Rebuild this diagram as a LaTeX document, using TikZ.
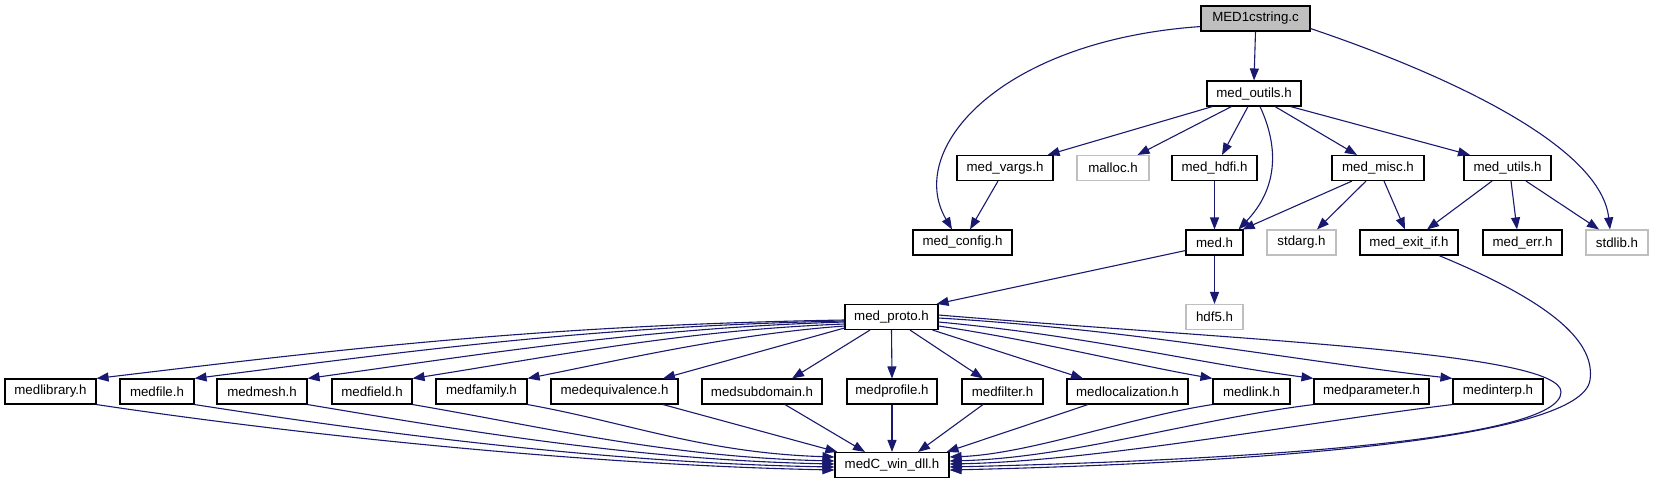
\documentclass[tikz,border=0pt]{standalone}
\usepackage{fontspec}
\setmainfont{Liberation Sans}
\usetikzlibrary{arrows.meta}
\definecolor{edgec}{HTML}{191970}
\definecolor{grayc}{HTML}{BFBFBF}
\begin{document}
\begin{tikzpicture}[x=1pt,y=-1pt,
  box/.style={draw=black, line width=1.1pt, inner sep=0pt, minimum height=25pt, font=\fontsize{13.3}{15}\selectfont, text=black},
  graybox/.style={box, draw=grayc},
  edge/.style={draw=edgec, line width=1.1pt, -{Triangle[length=12pt,width=9pt]}},
]
\path[fill=white] (0,0) rectangle (1654,485);
\useasboundingbox (0,0) rectangle (1654,485);
% row 0
\node[box, fill=grayc, minimum width=109pt] (m1) at (1255.5,18.5) {MED1cstring.c};
% row 1
\node[box, minimum width=94pt] (outils) at (1254,93.5) {med\_outils.h};
% row 2
\node[box, minimum width=96pt] (vargs) at (1005,168) {med\_vargs.h};
\node[graybox, minimum width=72pt] (malloc) at (1113,168) {malloc.h};
\node[box, minimum width=85pt] (hdfi) at (1214.5,168) {med\_hdfi.h};
\node[box, minimum width=92pt] (misc) at (1378,168) {med\_misc.h};
\node[box, minimum width=87pt] (utils) at (1507.5,168) {med\_utils.h};
% row 3
\node[box, minimum width=99pt] (config) at (962.5,242.5) {med\_config.h};
\node[box, minimum width=57pt] (med) at (1214.5,242.5) {med.h};
\node[graybox, minimum width=69pt] (stdarg) at (1301.5,242.5) {stdarg.h};
\node[box, minimum width=98pt] (exitif) at (1409,242.5) {med\_exit\_if.h};
\node[box, minimum width=79pt] (err) at (1522.5,242.5) {med\_err.h};
\node[graybox, minimum width=62pt] (stdlib) at (1617,242.5) {stdlib.h};
% row 4
\node[box, minimum width=93pt] (proto) at (891.5,317) {med\_proto.h};
\node[graybox, minimum width=57pt] (hdf5) at (1214.5,317) {hdf5.h};
% row 5
\node[box, minimum width=91pt] (library) at (50.5,391.5) {medlibrary.h};
\node[box, minimum width=74pt] (file) at (157,391.5) {medfile.h};
\node[box, minimum width=90pt] (mesh) at (262,391.5) {medmesh.h};
\node[box, minimum width=80pt] (field) at (372,391.5) {medfield.h};
\node[box, minimum width=91pt] (family) at (481.5,391.5) {medfamily.h};
\node[box, minimum width=127pt] (equiv) at (614.5,391.5) {medequivalence.h};
\node[box, minimum width=120pt] (subdomain) at (762,391.5) {medsubdomain.h};
\node[box, minimum width=90pt] (profile) at (892,391.5) {medprofile.h};
\node[box, minimum width=81pt] (filter) at (1002.5,391.5) {medfilter.h};
\node[box, minimum width=121pt] (localization) at (1127.5,391.5) {medlocalization.h};
\node[box, minimum width=77pt] (link) at (1251.5,391.5) {medlink.h};
\node[box, minimum width=115pt] (parameter) at (1371.5,391.5) {medparameter.h};
\node[box, minimum width=90pt] (interp) at (1498,391.5) {medinterp.h};
% row 6
\node[box, minimum width=114pt] (dll) at (892,465) {medC\_win\_dll.h};

% edges from MED1cstring.c
\draw[edge] (m1.south) -- (outils.north);
\draw[edge] ([yshift=5pt]m1.south west) .. controls +(-201,14) and +(-47,-80) .. ([xshift=-10.5pt]config.north);
\draw[edge] ([yshift=3pt]m1.south east) .. controls +(110,37) and +(-10,-90) .. ([xshift=-7pt]stdlib.north);
% edges from med_outils.h
\draw[edge] ([xshift=6pt]outils.south west) -- ([xshift=-6pt]vargs.north east);
\draw[edge] ([xshift=25pt]outils.south west) -- ([xshift=-12pt]malloc.north east);
\draw[edge] ([xshift=-6pt]outils.south) -- ([xshift=7.5pt]hdfi.north);
\draw[edge] ([xshift=6pt]outils.south) .. controls +(20,43) and +(38,-40) .. ([xshift=-5pt]med.north east);
\draw[edge] ([xshift=21pt]outils.south) -- ([xshift=-21pt]misc.north);
\draw[edge] ([xshift=-11pt]outils.south east) -- ([xshift=-37.5pt]utils.north);
% row 2 -> row 3
\draw[edge] ([xshift=-7pt]vargs.south) -- ([xshift=7.5pt]config.north);
\draw[edge] (hdfi.south) -- (med.north);
\draw[edge] ([xshift=-26pt]misc.south) -- ([xshift=-1pt]med.north east);
\draw[edge] ([xshift=-12pt]misc.south) -- ([xshift=15.5pt]stdarg.north);
\draw[edge] ([xshift=6pt]misc.south) -- ([xshift=-4pt]exitif.north);
\draw[edge] ([xshift=-15.5pt]utils.south) -- ([xshift=18pt]exitif.north);
\draw[edge] ([xshift=3.5pt]utils.south) -- ([xshift=-5.5pt]err.north);
\draw[edge] ([xshift=18.5pt]utils.south) -- ([xshift=-18pt]stdlib.north);
% med.h
\draw[edge] ([yshift=5pt]med.south west) -- ([xshift=-2pt]proto.north east);
\draw[edge] (med.south) -- (hdf5.north);
% med_exit_if.h -> medC_win_dll.h
\draw[edge] ([xshift=30pt]exitif.south) .. controls +(121,50) and +(5,-35) .. (1590,380) .. controls +(-8.5,60) and +(301,-7) .. ([yshift=-5pt]dll.east);
% med_proto.h loop -> medC_win_dll.h
\draw[edge] ([yshift=2pt]proto.east) .. controls +(300,25) and +(0,-40) .. (1561,392) .. controls +(0,48) and +(301,-7) .. ([yshift=-2pt]dll.east);
% med_proto.h -> children
\draw[edge] ([yshift=-3pt]proto.west) .. controls +(-300,5) and +(250,-30) .. (library.north east);
\draw[edge] ([yshift=-4pt]proto.west) .. controls +(-250,5) and +(220,-28) .. (file.north east);
\draw[edge] ([yshift=-5pt]proto.west) .. controls +(-200,6) and +(180,-25) .. (mesh.north east);
\draw[edge] ([yshift=-7pt]proto.west) .. controls +(-160,6) and +(140,-22) .. (field.north east);
\draw[edge] ([yshift=-9pt]proto.west) .. controls +(-110,8) and +(100,-20) .. (family.north east);
\draw[edge] ([yshift=-11pt]proto.west) -- ([xshift=48.5pt]equiv.north);
\draw[edge] ([xshift=-21.5pt]proto.south) -- ([xshift=30pt]subdomain.north);
\draw[edge] (proto.south) -- (profile.north);
\draw[edge] ([xshift=18.5pt]proto.south) -- ([xshift=-19.5pt]filter.north);
\draw[edge] ([xshift=-6pt]proto.south east) -- ([xshift=-44.5pt]localization.north);
\draw[edge] ([yshift=-9pt]proto.east) .. controls +(100,15) and +(-80,-14) .. (link.north west);
\draw[edge] ([yshift=-5pt]proto.east) .. controls +(150,14) and +(-120,-16) .. (parameter.north west);
\draw[edge] ([yshift=-1pt]proto.east) .. controls +(200,12) and +(-160,-18) .. (interp.north west);
% children -> medC_win_dll.h
\draw[edge] (library.south east) .. controls +(200,30) and +(-250,-5) .. ([yshift=-5pt]dll.west);
\draw[edge] (file.south east) .. controls +(180,28) and +(-230,-4) .. ([yshift=-2pt]dll.west);
\draw[edge] (mesh.south east) .. controls +(150,25) and +(-200,-4) .. ([yshift=1pt]dll.west);
\draw[edge] (field.south east) .. controls +(130,22) and +(-170,-4) .. ([yshift=4pt]dll.west);
\draw[edge] (family.south east) .. controls +(100,18) and +(-130,-4) .. ([yshift=8pt]dll.west);
\draw[edge] ([xshift=48.5pt]equiv.south) -- ([xshift=3pt]dll.north west);
\draw[edge] ([xshift=23pt]subdomain.south) -- ([xshift=-27pt]dll.north);
\draw[edge] (profile.south) -- (dll.north);
\draw[edge] ([xshift=-19.5pt]filter.south) -- ([xshift=26pt]dll.north);
\draw[edge] ([xshift=-39.5pt]localization.south) -- ([xshift=-3pt]dll.north east);
\draw[edge] (link.south west) .. controls +(-80,12) and +(80,-3) .. ([yshift=8pt]dll.east);
\draw[edge] (parameter.south west) .. controls +(-120,15) and +(120,-3) .. ([yshift=4pt]dll.east);
\draw[edge] (interp.south west) .. controls +(-150,18) and +(150,-3) .. ([yshift=1pt]dll.east);
\end{tikzpicture}
\end{document}
